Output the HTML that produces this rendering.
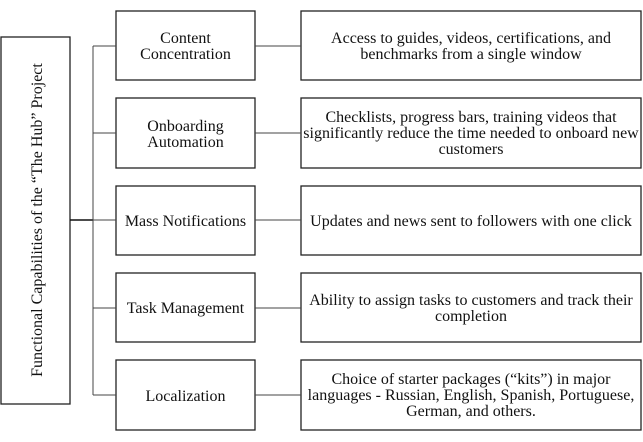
<!DOCTYPE html>
<html><head><meta charset="utf-8"><style>
html,body{margin:0;padding:0;background:#fff;}
svg{display:block;}
text{font-family:"Liberation Serif","Times New Roman",serif !important;font-size:16px;fill:#111;}
</style></head><body>
<svg width="643" height="442" viewBox="0 0 643 442" xmlns="http://www.w3.org/2000/svg" font-family="Liberation Serif, serif">
<g fill="none" stroke="#222" stroke-width="1.3">
<rect x="1" y="37" width="69" height="367"/>
<rect x="116" y="11" width="139" height="69"/>
<rect x="116" y="98" width="139" height="70"/>
<rect x="116" y="186" width="139" height="69"/>
<rect x="116" y="273" width="139" height="69"/>
<rect x="116" y="360" width="139" height="70"/>
<rect x="301" y="11" width="340" height="69"/>
<rect x="301" y="98" width="340" height="70"/>
<rect x="301" y="186" width="340" height="69"/>
<rect x="301" y="273" width="340" height="69"/>
<rect x="301" y="360" width="340" height="70"/>
</g>
<g stroke="#444" stroke-width="1">
<line x1="70" y1="220" x2="93" y2="220" stroke-width="1.5" stroke="#111"/>
<line x1="93" y1="46" x2="93" y2="395"/>
<line x1="93" y1="46" x2="116" y2="46"/>
<line x1="93" y1="133" x2="116" y2="133"/>
<line x1="93" y1="220" x2="116" y2="220"/>
<line x1="93" y1="308" x2="116" y2="308"/>
<line x1="93" y1="395" x2="116" y2="395"/>
<line x1="255" y1="46" x2="301" y2="46"/>
<line x1="255" y1="133" x2="301" y2="133"/>
<line x1="255" y1="220" x2="301" y2="220"/>
<line x1="255" y1="308" x2="301" y2="308"/>
<line x1="255" y1="395" x2="301" y2="395"/>
</g>
<text transform="translate(42,220) rotate(-90)" text-anchor="middle">Functional Capabilities of the “The Hub” Project</text>
<g text-anchor="middle">
<text x="185.5" y="43">Content</text>
<text x="185.5" y="59">Concentration</text>
<text x="185.5" y="131">Onboarding</text>
<text x="185.5" y="147">Automation</text>
<text x="185.5" y="226">Mass Notifications</text>
<text x="185.5" y="313">Task Management</text>
<text x="185.5" y="401">Localization</text>
<text x="471" y="43">Access to guides, videos, certifications, and</text>
<text x="471" y="59">benchmarks from a single window</text>
<text x="471" y="122">Checklists, progress bars, training videos that</text>
<text x="471" y="138">significantly reduce the time needed to onboard new</text>
<text x="471" y="154">customers</text>
<text x="471" y="226">Updates and news sent to followers with one click</text>
<text x="471" y="305">Ability to assign tasks to customers and track their</text>
<text x="471" y="321">completion</text>
<text x="471" y="384">Choice of starter packages (“kits”) in major</text>
<text x="471" y="400">languages - Russian, English, Spanish, Portuguese,</text>
<text x="471" y="416">German, and others.</text>
</g>
</svg>
</body></html>
